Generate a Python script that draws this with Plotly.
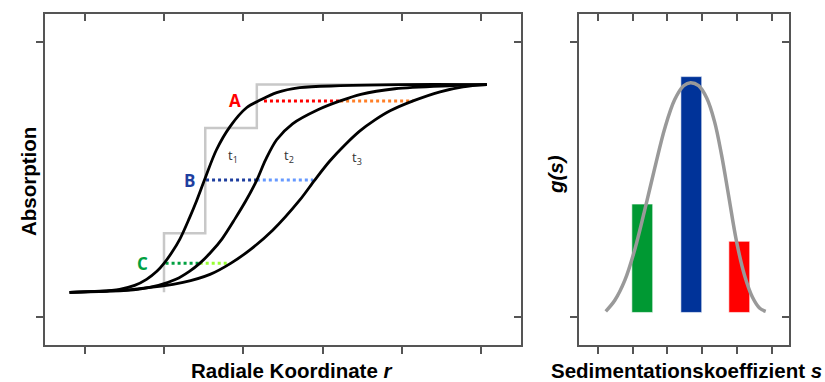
import plotly.graph_objects as go

# ---- left panel: absorption profiles at three times ----
t1_r = [0.81, 1.19, 1.44, 1.63, 1.78, 1.91, 2.00, 2.10, 2.20, 2.32, 2.41, 2.51, 2.66, 2.83, 3.04, 3.22, 3.42, 3.71, 4.22, 4.97, 6.07]
t1_a = [0.091, 0.095, 0.102, 0.116, 0.138, 0.167, 0.196, 0.236, 0.284, 0.360, 0.422, 0.498, 0.607, 0.691, 0.760, 0.789, 0.815, 0.833, 0.840, 0.844, 0.844]

t2_r = [0.81, 1.32, 1.67, 1.93, 2.15, 2.32, 2.45, 2.59, 2.73, 2.90, 3.03, 3.17, 3.28, 3.42, 3.62, 3.94, 4.22, 4.48, 4.91, 5.64, 6.07]
t2_a = [0.091, 0.095, 0.102, 0.116, 0.138, 0.167, 0.196, 0.236, 0.284, 0.360, 0.422, 0.498, 0.571, 0.644, 0.702, 0.753, 0.785, 0.809, 0.829, 0.840, 0.844]

t3_r = [0.81, 1.61, 2.24, 2.58, 2.84, 3.08, 3.37, 3.71, 3.90, 4.09, 4.28, 4.47, 4.66, 4.85, 5.14, 5.48, 5.77, 6.07]
t3_a = [0.091, 0.102, 0.127, 0.156, 0.196, 0.244, 0.316, 0.425, 0.498, 0.567, 0.625, 0.676, 0.716, 0.749, 0.785, 0.818, 0.836, 0.844]

# ideal stepwise boundary (three discrete species)
step_r = [2.00, 2.00, 2.52, 2.52, 3.17, 3.17, 6.07]
step_a = [0.091, 0.305, 0.305, 0.687, 0.687, 0.844, 0.844]

# constant-absorption levels A, B, C and where each profile crosses them
level_names = ["A", "B", "C"]
level_a = [0.785, 0.498, 0.196]
level_r1 = [3.26, 2.53, 2.02]
level_r2 = [4.22, 3.17, 2.45]
level_r3 = [5.14, 3.88, 2.83]
level_dark = ["#ff0000", "#1f3f9f", "#00a040"]
level_light = ["#ff7f27", "#6699ff", "#99ff33"]
label_r = [2.89, 2.32, 1.73]

time_labels = ["t<sub>1</sub>", "t<sub>2</sub>", "t<sub>3</sub>"]
time_label_r = [2.87, 3.57, 4.43]
time_label_a = [0.585, 0.585, 0.578]

# ---- right panel: sedimentation coefficient distribution ----
bar_s = [2.28, 3.69, 5.07]
bar_g = [0.411, 0.873, 0.276]
bar_base = 0.018
bar_colors = ["#009933", "#003399", "#ff0000"]

gs_s = [1.23, 1.49, 1.78, 2.06, 2.35, 2.64, 2.93, 3.21, 3.47, 3.67, 3.90, 4.13, 4.36, 4.56, 4.76, 4.99, 5.22, 5.45, 5.66, 5.83]
gs_g = [0.022, 0.062, 0.135, 0.244, 0.389, 0.542, 0.687, 0.789, 0.840, 0.851, 0.840, 0.796, 0.709, 0.589, 0.444, 0.276, 0.153, 0.073, 0.033, 0.022]

x_ticks = [1, 2, 3, 4, 5, 6]
y_ticks = [0, 1]

FRAME = "#555555"
FONT = "Liberation Sans"

fig = go.Figure()

fig.add_trace(go.Scatter(x=step_r, y=step_a, mode="lines",
                         line=dict(color="#c8c8c8", width=2.5),
                         xaxis="x", yaxis="y", hoverinfo="skip"))

for i in range(3):
    fig.add_trace(go.Scatter(x=[level_r1[i], level_r2[i]], y=[level_a[i]] * 2, mode="lines",
                             line=dict(color=level_dark[i], width=3, dash="dot"),
                             xaxis="x", yaxis="y"))
    fig.add_trace(go.Scatter(x=[level_r2[i], level_r3[i]], y=[level_a[i]] * 2, mode="lines",
                             line=dict(color=level_light[i], width=3, dash="dot"),
                             xaxis="x", yaxis="y"))

for r, a in [(t1_r, t1_a), (t2_r, t2_a), (t3_r, t3_a)]:
    fig.add_trace(go.Scatter(x=r, y=a, mode="lines",
                             line=dict(color="black", width=2.8, shape="spline", smoothing=0.9),
                             xaxis="x", yaxis="y"))

fig.add_trace(go.Bar(x=bar_s, y=[g - bar_base for g in bar_g], base=bar_base, width=0.6,
                     marker=dict(color=bar_colors, line=dict(color="rgba(255,255,255,0.6)", width=1)),
                     xaxis="x2", yaxis="y2"))

fig.add_trace(go.Scatter(x=gs_s, y=gs_g, mode="lines",
                         line=dict(color="#999999", width=3.5, shape="spline", smoothing=1.0),
                         xaxis="x2", yaxis="y2"))

# invisible traces so the inner-tick overlay axes get drawn
fig.add_trace(go.Scatter(x=[None], y=[None], xaxis="x3", yaxis="y3", showlegend=False))
fig.add_trace(go.Scatter(x=[None], y=[None], xaxis="x4", yaxis="y4", showlegend=False))

ydom = [1 - 345 / 382, 1 - 14 / 382]
xdom1 = [45 / 825, 521 / 825]
xdom2 = [579 / 825, 789 / 825]

common = dict(showgrid=False, zeroline=False, showticklabels=False,
              tickcolor=FRAME, tickwidth=1.5, ticklen=7)
frame = dict(showline=True, linecolor=FRAME, linewidth=1.5, mirror=True)

fig.update_layout(
    width=825, height=382,
    margin=dict(l=0, r=0, t=0, b=0),
    paper_bgcolor="white", plot_bgcolor="white",
    showlegend=False,
    xaxis=dict(domain=xdom1, range=[0.5, 6.5], anchor="y", tickvals=x_ticks, ticks="outside", **common, **frame),
    yaxis=dict(domain=ydom, range=[-0.1, 1.1], anchor="x", tickvals=y_ticks, ticks="outside", **common, **frame),
    xaxis2=dict(domain=xdom2, range=[0.46, 6.5], anchor="y2", tickvals=x_ticks, ticks="outside", **common, **frame),
    yaxis2=dict(domain=ydom, range=[-0.1, 1.1], anchor="x2", tickvals=y_ticks, ticks="outside", **common, **frame),
    xaxis3=dict(overlaying="x", side="top", anchor="y3", range=[0.5, 6.5], tickvals=x_ticks, ticks="inside", **common),
    yaxis3=dict(domain=ydom, overlaying="y", side="right", anchor="x3", range=[-0.1, 1.1], tickvals=y_ticks, ticks="inside", **common),
    xaxis4=dict(overlaying="x2", side="top", anchor="y4", range=[0.46, 6.5], tickvals=x_ticks, ticks="inside", **common),
    yaxis4=dict(domain=ydom, overlaying="y2", side="right", anchor="x4", range=[-0.1, 1.1], tickvals=y_ticks, ticks="inside", **common),
)

annotations = []
for i in range(3):
    annotations.append(dict(x=label_r[i], y=level_a[i], xref="x", yref="y", text="<b>%s</b>" % level_names[i],
                            xanchor="center", yanchor="middle",
                            showarrow=False, font=dict(family="Open Sans", size=17, color=level_dark[i])))
    annotations.append(dict(x=time_label_r[i], y=time_label_a[i], xref="x", yref="y", text=time_labels[i],
                            xanchor="center", yanchor="middle",
                            showarrow=False, font=dict(family="Open Sans", size=13, color="#333333")))

title_font = dict(family=FONT, size=20.5, color="black")
annotations += [
    dict(x=292 / 825, y=1 - 370 / 382, xref="paper", yref="paper", text="<b>Radiale Koordinate <i>r</i></b>",
         xanchor="center", yanchor="middle", showarrow=False, font=title_font),
    dict(x=686 / 825, y=1 - 370 / 382, xref="paper", yref="paper", text="<b>Sedimentationskoeffizient <i>s</i></b>",
         xanchor="center", yanchor="middle", showarrow=False, font=title_font),
    dict(x=28 / 825, y=1 - 182 / 382, xref="paper", yref="paper", text="<b>Absorption</b>",
         xanchor="center", yanchor="middle", showarrow=False, textangle=-90, font=title_font),
    dict(x=556 / 825, y=1 - 175 / 382, xref="paper", yref="paper", text="<b><i>g(s)</i></b>",
         xanchor="center", yanchor="middle", showarrow=False, textangle=-90, font=title_font),
]
fig.update_layout(annotations=annotations)

fig.write_html("out.html")
